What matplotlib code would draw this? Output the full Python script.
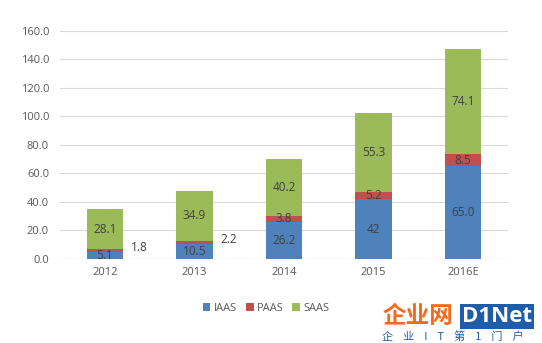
import matplotlib
matplotlib.use('agg')
import numpy as np
import matplotlib.pyplot as plt

plt.rcParams['font.family'] = ['Open Sans', 'Noto Sans CJK SC', 'DejaVu Sans']

# data
years = ['2012', '2013', '2014', '2015', '2016E']
iaas = [5.1, 10.5, 26.2, 42, 65.0]
paas = [1.8, 2.2, 3.8, 5.2, 8.5]
saas = [28.1, 34.9, 40.2, 55.3, 74.1]
iaas_lbl = ['5.1', '10.5', '26.2', '42', '65.0']
paas_lbl = ['1.8', '2.2', '3.8', '5.2', '8.5']
saas_lbl = ['28.1', '34.9', '40.2', '55.3', '74.1']

c_i, c_p, c_s = '#4F81BD', '#C0504D', '#9BBB59'
txt = '#404040'

fig = plt.figure(figsize=(5.42, 3.43), dpi=100)
ax = fig.add_axes([0.111, 0.245, 0.826, 0.665])

x = np.arange(len(years))
w = 0.41
ax.bar(x, iaas, w, color=c_i, label='IAAS', zorder=3)
ax.bar(x, paas, w, bottom=iaas, color=c_p, label='PAAS', zorder=3)
bot3 = np.array(iaas) + np.array(paas)
ax.bar(x, saas, w, bottom=bot3, color=c_s, label='SAAS', zorder=3)

for i in range(len(years)):
    ax.text(x[i], iaas[i] / 2, iaas_lbl[i], ha='center', va='center',
            fontsize=8.5, color=txt, zorder=4)
    ax.text(x[i], bot3[i] + saas[i] / 2, saas_lbl[i], ha='center', va='center',
            fontsize=8.5, color=txt, zorder=4)
    if paas[i] < 3:
        # small segment: label to the right of the bar
        ax.text(x[i] + w / 2 + 0.08, iaas[i] + paas[i] / 2 + 2.0, paas_lbl[i],
                ha='left', va='center', fontsize=8.5, color=txt, zorder=4)
    else:
        ax.text(x[i], iaas[i] + paas[i] / 2, paas_lbl[i], ha='center',
                va='center', fontsize=8.5, color=txt, zorder=4)

ax.set_xlim(-0.5, len(years) - 0.5)
ax.set_ylim(0, 160)
ax.set_yticks(np.arange(0, 161, 20))
ax.set_yticklabels(['%.1f' % v for v in np.arange(0, 161, 20)])
ax.set_xticks(x)
ax.set_xticklabels(years)
ax.tick_params(length=0, labelsize=8, colors='#595959', pad=8)
ax.tick_params(axis='x', pad=6)
ax.grid(axis='y', color='#D9D9D9', linewidth=0.8, zorder=0)
for s in ax.spines.values():
    s.set_visible(False)
ax.axhline(0, color='#D9D9D9', linewidth=0.8, zorder=2)

ax.legend(loc='center', bbox_to_anchor=(0.46, -0.215), ncol=3, frameon=False,
          fontsize=8, handlelength=0.7, handleheight=0.7, handletextpad=0.3,
          columnspacing=0.8, labelcolor='#595959')

# watermark
fig.text(0.705, 0.078, '企业网', fontsize=17, fontweight='bold', color='#F26B1D',
         family=['Noto Sans CJK SC'], va='center')
fig.text(0.852, 0.078, 'D1Net', fontsize=16, fontweight='bold', color='white',
         va='center', bbox=dict(boxstyle='square,pad=0.08', fc='#1F5DAA', ec='none'))
fig.text(0.705, 0.018, '企    业    I    T    第    1    门    户', fontsize=8,
         color='#1F5DAA', family=['Noto Sans CJK SC'], va='center')

fig.savefig('out.png', dpi=100)
